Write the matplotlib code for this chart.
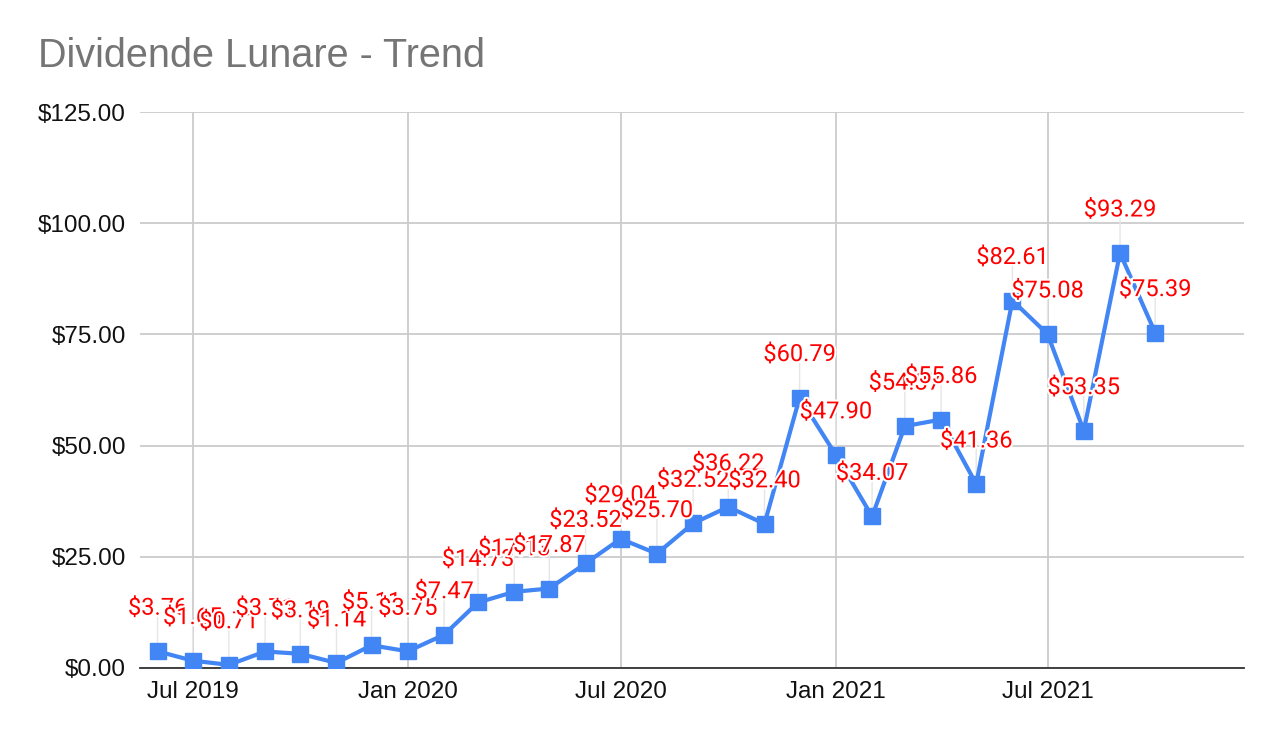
import datetime as dt
import matplotlib
matplotlib.use("Agg")
import matplotlib.pyplot as plt
import matplotlib.patheffects as pe
from matplotlib.ticker import FuncFormatter, MultipleLocator

plt.rcParams['font.family'] = ['Liberation Sans', 'DejaVu Sans']

# monthly dividend, Jun 2019 .. Oct 2021
months = [dt.date(2019 + (5 + i) // 12, (5 + i) % 12 + 1, 1) for i in range(29)]
dividend = [3.76, 1.65, 0.71, 3.71, 3.19, 1.14, 5.11, 3.75, 7.47, 14.73,
            17.13, 17.87, 23.52, 29.04, 25.70, 32.52, 36.22, 32.40, 60.79, 47.90,
            34.07, 54.37, 55.86, 41.36, 82.61, 75.08, 53.35, 93.29, 75.39]
tick_dates = [dt.date(2019, 7, 1), dt.date(2020, 1, 1), dt.date(2020, 7, 1),
              dt.date(2021, 1, 1), dt.date(2021, 7, 1)]
tick_labels = ["Jul 2019", "Jan 2020", "Jul 2020", "Jan 2021", "Jul 2021"]

blue = "#4285F4"
fig = plt.figure(figsize=(12.82, 7.42), dpi=100)
ax = fig.add_axes([140 / 1282, (742 - 668) / 742, (1244 - 140) / 1282, (668 - 112) / 742])

ax.plot(months, dividend, color=blue, lw=3, marker="s", ms=12, zorder=3)

# data labels above each point with a thin leader line
for d, v in zip(months, dividend):
    ax.annotate("", xy=(d, v), xytext=(0, 28), textcoords="offset points",
                arrowprops=dict(arrowstyle="-", color="#e6e6e6", lw=1,
                                shrinkA=0, shrinkB=5), zorder=2)
    ax.annotate(f"${v:.2f}", xy=(d, v), xytext=(0, 31), textcoords="offset points",
                ha="center", va="center", color="#ff0000", fontsize=17, zorder=4,
                family=["Roboto", "DejaVu Sans"],
                path_effects=[pe.withStroke(linewidth=3, foreground="white")])

ax.set_xlim(dt.date(2019, 5, 17), dt.date(2021, 12, 16))
ax.set_ylim(0, 125)
ax.set_xticks(tick_dates)
ax.set_xticklabels(tick_labels)
ax.yaxis.set_major_locator(MultipleLocator(25))
ax.yaxis.set_major_formatter(FuncFormatter(lambda y, _: f"${y:.2f}"))
ax.grid(True, color="#cccccc", lw=1.3)
ax.set_axisbelow(True)
for s in ["top", "right", "left"]:
    ax.spines[s].set_visible(False)
ax.spines["bottom"].set_color("#333333")
ax.spines["bottom"].set_linewidth(1.3)
ax.tick_params(length=0, labelsize=17.5, colors="#111111")
ax.tick_params(axis="x", pad=9)
ax.tick_params(axis="y", pad=10)

fig.text(38 / 1282, 1 - 67 / 742, "Dividende Lunare - Trend", color="#757575",
         fontsize=28.5, va="baseline")

fig.savefig("out.png", dpi=100, facecolor="white")
